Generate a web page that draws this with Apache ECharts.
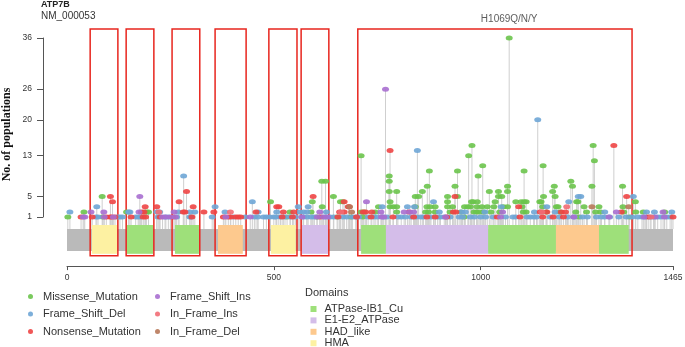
<!DOCTYPE html>
<html>
<head>
<meta charset="utf-8">
<script src="https://cdn.jsdelivr.net/npm/echarts@6/dist/echarts.min.js"></script>
<style>
  html, body { margin: 0; background: #fff; }
  #chart { width: 685px; height: 347px; }
</style>
</head>
<body>
<div id="chart"></div>
<script>
// protein + axis
const geneName = 'ATP7B';
const transcript = 'NM_000053';
const protLen = 1465;
const xTicks = [0, 500, 1000, 1465];
const yTicks = [1, 5, 13, 20, 26, 36];

// mutations: [aa position, no. of populations]
const missense = [
  [2,1],[41,2],[85,5],[86,1],[144,2],[192,2],[197,2],[492,4],[532,1],[539,2],[590,2],[593,4],[604,1],[616,8],[625,8],
  [617,3],[644,5],[653,1],[661,4],[667,4],[686,1],
  [711,13],[711,2],[715,1],[718,2],[745,2],[753,3],[779,9],[779,8],[779,6],[781,4],[781,3],[789,3],[797,6],[797,3],
  [797,2],[842,5],[850,5],[842,3],[859,6],[871,7],[876,10],[867,2],[870,3],[878,3],[874,2],[890,3],[890,2],[920,5],
  [920,4],[920,3],[926,2],[938,7],[944,10],[944,5],[932,3],[952,2],[960,1],[961,3],[969,3],[971,13],[975,3],[979,15],
  [978,4],[982,4],[984,2],[990,2],[991,3],[992,4],[994,9],[998,2],[1005,11],[1003,3],[1007,2],[1021,6],[1016,3],
  [1025,2],[1032,3],[1035,4],[1043,6],[1043,5],[1046,2],[1051,5],[1055,3],[1065,7],[1065,6],[1065,3],[1069,36],
  [1085,4],[1098,4],[1100,3],[1103,2],[1105,10],[1105,4],[1110,4],[1110,2],[1143,4],[1146,4],[1150,3],[1151,11],
  [1152,5],[1158,2],[1174,6],[1178,7],[1180,5],[1183,3],[1187,3],[1192,2],[1218,8],[1222,7],[1232,4],[1235,4],
  [1238,1],[1230,2],[1250,3],[1256,2],[1269,7],[1272,15],[1275,12],[1278,2],[1286,3],[1290,2],[1343,7],[1344,3],
  [1346,2],[1360,1],[1374,4],[1375,2],[1393,2],[1445,2]
];
const frameShiftDel = [
  [7,2],[72,3],[149,2],[152,2],[217,2],[224,2],[269,2],[282,9],[297,2],[309,2],[358,3],[382,2],[448,4],[462,2],
  [507,2],[559,3],[563,2],[572,2],[580,2],[583,3],[627,2],[762,3],[823,3],[840,3],[847,14],[886,4],[900,2],[954,2],
  [963,2],[1010,2],[1050,3],[1130,2],[1138,20],[1160,3],[1180,2],[1213,4],[1236,5],[1242,5],[1300,2],[1369,5],
  [1401,2],[1420,2],[1462,2],
  [70,1],[75,1],[122,1],[128,1],[134,1],[166,1],[172,1],[178,1],[220,1],[237,1],[245,1],[265,1],[297,1],[300,1],
  [351,1],[402,1],[431,1],[453,1],[461,1],[475,1],[482,1],[490,1],[500,1],[505,1],[516,1],[527,1],[540,1],[552,1],
  [572,1],[580,1],[590,1],[598,1],[624,1],[636,1],[645,1],[667,1],[676,1],[690,1],[698,1],[705,1],[728,1],[742,1],
  [750,1],[764,1],[773,1],[800,1],[808,1],[818,1],[832,1],[845,1],[855,1],[862,1],[880,1],[896,1],[903,1],[912,1],
  [926,1],[948,1],[956,1],[975,1],[985,1],[1000,1],[1012,1],[1030,1],[1060,1],[1078,1],[1085,1],[1112,1],[1120,1],
  [1128,1],[1135,1],[1168,1],[1190,1],[1210,1],[1226,1],[1246,1],[1258,1],[1280,1],[1292,1],[1300,1],[1312,1],
  [1334,1],[1352,1],[1366,1],[1380,1],[1390,1],[1398,1],[1410,1],[1418,1],[1428,1],[1436,1],[1450,1],[1458,1]
];
const nonsense = [
  [34,1],[61,1],[95,1],[104,1],[105,5],[108,1],[110,4],[116,1],[155,1],[180,2],[184,1],[186,2],[189,3],[190,1],
  [217,3],[225,1],[256,1],[271,4],[281,2],[285,2],[289,6],[302,1],[305,3],[331,2],[355,2],[378,1],[390,1],[396,1],
  [408,1],[414,1],[420,1],[457,2],[507,3],[512,3],[520,1],[523,2],[545,1],[548,2],[595,5],[612,1],[655,1],[659,2],
  [670,4],[670,2],[680,3],[682,3],[700,1],[716,2],[722,2],[735,1],[737,2],[781,14],[788,1],[827,2],[838,1],[870,1],
  [890,1],[918,1],[934,2],[938,5],[940,2],[1040,1],[1092,3],[1095,1],[1144,2],[1150,1],[1160,2],[1175,1],[1195,2],
  [1200,1],[1205,2],[1322,15],[1340,2],[1353,5],[1405,1],[1465,1]
];
const frameShiftIns = [
  [39,1],[43,1],[58,2],[89,2],[90,1],[112,1],[174,2],[176,5],[231,1],[239,1],[250,1],[259,2],[262,1],[384,1],[443,1],
  [568,1],[605,1],[611,2],[620,1],[630,1],[724,4],[759,2],[760,1],[766,1],[770,26],[815,2],[829,2],[838,2],[915,1],
  [1048,1],[1053,2],[1225,1],[1310,1],[1328,2],[1395,1],[1422,1],[1441,2],[1444,1]
];
const inFrameIns = [[222,2],[395,2],[662,2],[1148,2],[1208,3],[1412,1]];
const inFrameDel = [[683,3],[688,2],[1269,3],[1358,3]];

// domains [start, end]
const domATPaseCu = [[145,208],[261,319],[711,771],[1018,1182],[1286,1358]];
const domE1E2 = [[568,631],[771,1018]];
const domHAD = [[365,425],[1182,1286]];
const domHMA = [[60,121],[493,553]];

// highlighted regions
const boxes = [[56,123],[143,210],[254,321],[358,433],[488,556],[566,633],[703,1366]];
const annotations = [[1069, 'H1069Q/N/Y']];

const mutTypes = [
  { name: 'Missense_Mutation', data: missense, color: '#6bc44d' },
  { name: 'Frame_Shift_Del', data: frameShiftDel, color: '#6fa6d6' },
  { name: 'Nonsense_Mutation', data: nonsense, color: '#ee4545' },
  { name: 'Frame_Shift_Ins', data: frameShiftIns, color: '#a86fd0' },
  { name: 'In_Frame_Ins', data: inFrameIns, color: '#f26d76' },
  { name: 'In_Frame_Del', data: inFrameDel, color: '#b8795a' }
];
const domTypes = [
  { name: 'ATPase-IB1_Cu', data: domATPaseCu, color: '#9ee07a' },
  { name: 'E1-E2_ATPase', data: domE1E2, color: '#d4bde9' },
  { name: 'HAD_like', data: domHAD, color: '#fdc98e' },
  { name: 'HMA', data: domHMA, color: '#fdf1a2' }
];

const stemBase = -1.35;
const font = 'Liberation Sans';
const ellipse = 'path://M0,5a7,5 0 1,0 14,0a7,5 0 1,0 -14,0z';

const chart = echarts.init(document.getElementById('chart'));

const rectRender = (yTop, yBot, styleFn) => (params, api) => {
  const a = api.coord([api.value(0), yTop]);
  const b = api.coord([api.value(1), yBot]);
  return {
    type: 'rect',
    shape: { x: a[0], y: a[1], width: b[0] - a[0], height: b[1] - a[1] },
    style: styleFn(api)
  };
};

const allMuts = [].concat(...mutTypes.map(t => t.data));

const series = [
  {
    type: 'custom', name: 'stems', xAxisIndex: 1, yAxisIndex: 1, z: 1, silent: true,
    data: allMuts,
    renderItem: (params, api) => {
      const p0 = api.coord([api.value(0), stemBase]);
      const p1 = api.coord([api.value(0), api.value(1)]);
      return { type: 'line', shape: { x1: p0[0], y1: p0[1], x2: p1[0], y2: p1[1] },
        style: { stroke: '#cfcfcf', lineWidth: 1 } };
    }
  },
  {
    type: 'custom', name: 'backbone', xAxisIndex: 1, yAxisIndex: 1, z: 2, silent: true,
    data: [[0, protLen]],
    renderItem: rectRender(-1.35, -5.65, () => ({ fill: '#bababa' }))
  }
];
domTypes.forEach(d => series.push({
  type: 'custom', name: d.name, xAxisIndex: 1, yAxisIndex: 1, z: 3,
  itemStyle: { color: d.color },
  data: d.data,
  renderItem: rectRender(-0.56, -6.2, api => ({ fill: api.visual('color') }))
}));
series.push({
  type: 'custom', name: 'boxes', xAxisIndex: 1, yAxisIndex: 1, z: 4, silent: true,
  data: boxes,
  renderItem: rectRender(37.76, -6.6, () => ({ fill: 'none', stroke: '#e8261e', lineWidth: 1.5 }))
});
mutTypes.forEach(t => series.push({
  type: 'scatter', name: t.name, xAxisIndex: 1, yAxisIndex: 1, z: 5,
  symbol: ellipse, symbolKeepAspect: false, symbolSize: [7, 5],
  itemStyle: { color: t.color, opacity: 0.9 },
  data: t.data
}));
series.push({
  type: 'scatter', name: 'annot', xAxisIndex: 1, yAxisIndex: 1, z: 6, symbolSize: 0, silent: true,
  data: annotations.map(a => ({ value: [a[0], 39.7], label: { formatter: a[1] } })),
  label: { show: true, position: 'inside', fontSize: 10, color: '#333', fontFamily: font }
});

const mutLegend = (items, left) => ({
  data: items.map(t => ({ name: t.name, icon: 'circle' })),
  orient: 'vertical', left: left, top: 290.5, padding: 0,
  itemWidth: 15, itemHeight: 5, itemGap: 5.5,
  textStyle: { fontSize: 11, color: '#333', lineHeight: 12 }
});
const domLegend = (items, top) => ({
  data: items.map(d => d.name),
  icon: 'path://M0,0h10v10h-10z', symbolKeepAspect: true,
  orient: 'vertical', left: 310.5, top: top, padding: 0,
  itemWidth: 12, itemHeight: 6, itemGap: 0,
  textStyle: { fontSize: 11, color: '#333', lineHeight: 11.4 }
});

const option = {
  animation: false,
  textStyle: { fontFamily: font },
  title: [
    {
      text: geneName, subtext: transcript, left: 41, top: 0, padding: 0, itemGap: 2,
      textStyle: { fontSize: 9, fontWeight: 'bold', color: '#222', fontFamily: font, lineHeight: 9 },
      subtextStyle: { fontSize: 10, color: '#333', fontFamily: font, lineHeight: 11 }
    },
    {
      text: 'Domains', left: 305, top: 287, padding: 0,
      textStyle: { fontSize: 11, fontWeight: 'normal', color: '#333', fontFamily: font }
    }
  ],
  legend: [
    mutLegend(mutTypes.slice(0, 3), 28),
    mutLegend(mutTypes.slice(3), 155),
    domLegend(domTypes.slice(0, 3), 303.3),
    domLegend(domTypes.slice(3), 337.5)
  ],
  grid: [
    { left: 43, top: 38, width: 1, height: 179, outerBoundsMode: 'none' },
    { left: 67, right: 12, top: 17.54, bottom: 80.9, outerBoundsMode: 'none' }
  ],
  xAxis: [
    { gridIndex: 0, type: 'value', min: 0, max: 1, show: false },
    {
      gridIndex: 1, type: 'value', min: 0, max: protLen,
      axisLine: { show: true, onZero: false, lineStyle: { color: '#555', width: 1 } },
      axisTick: { show: true, length: 4, customValues: xTicks, lineStyle: { color: '#555' } },
      axisLabel: { customValues: xTicks, fontSize: 8.5, color: '#333', margin: 7, formatter: v => String(v) },
      splitLine: { show: false }
    }
  ],
  yAxis: [
    {
      gridIndex: 0, type: 'value', min: 1, max: 36, position: 'left',
      name: 'No. of populations', nameLocation: 'middle', nameGap: 30, nameRotate: 90,
      nameTextStyle: { fontFamily: 'Liberation Serif', fontWeight: 'bold', fontSize: 12, color: '#111',
        padding: [0, 14, 0, 0] },
      axisLine: { show: true, onZero: false, lineStyle: { color: '#555', width: 1 } },
      axisTick: { show: true, length: 6, customValues: yTicks, lineStyle: { color: '#555' } },
      axisLabel: { customValues: yTicks, fontSize: 8.5, color: '#333', margin: 11, formatter: v => String(v) },
      splitLine: { show: false }
    },
    { gridIndex: 1, type: 'value', min: -8.6, max: 40, show: false }
  ],
  series: series
};

chart.setOption(option);
</script>
</body>
</html>
